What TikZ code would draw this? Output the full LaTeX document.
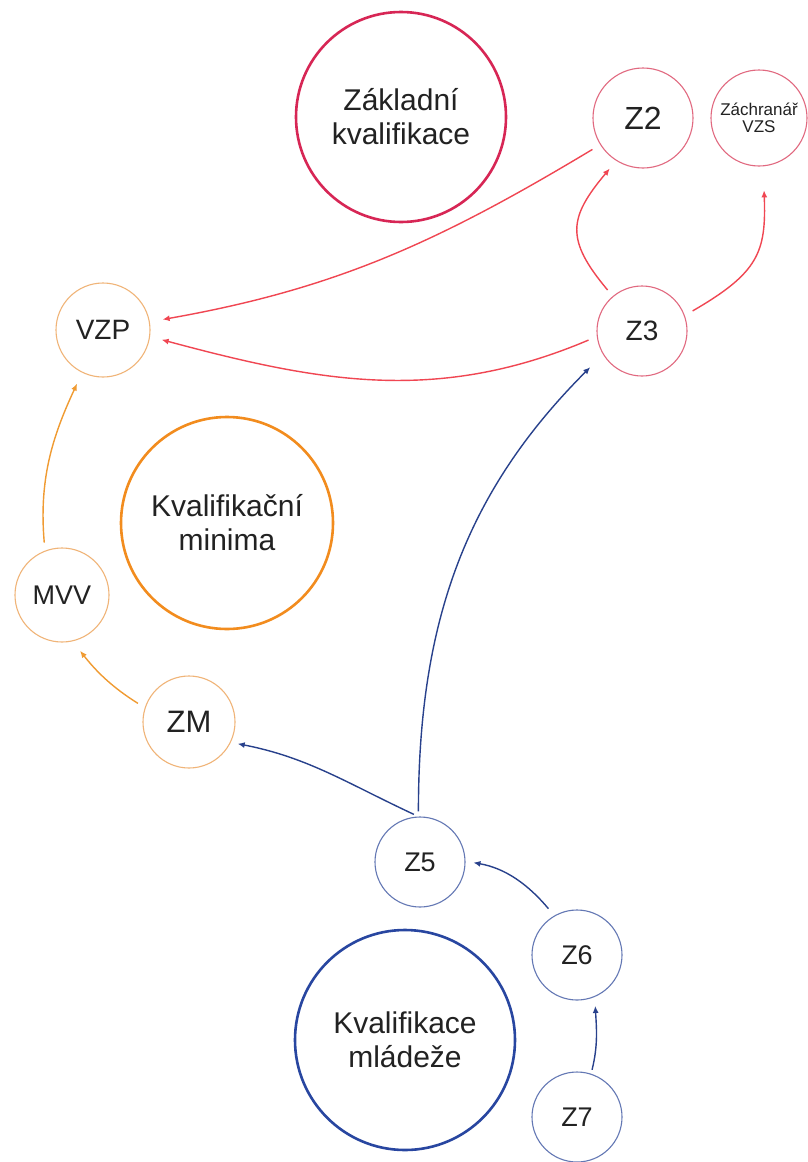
\documentclass[tikz,border=0pt]{standalone}
\usepackage{fontspec}
\setmainfont{Liberation Sans}
\usetikzlibrary{arrows.meta}
\definecolor{txt}{RGB}{34,34,34}
\definecolor{redbig}{RGB}{215,38,85}
\definecolor{redsm}{RGB}{225,105,128}
\definecolor{redar}{RGB}{240,70,82}
\definecolor{orbig}{RGB}{242,140,30}
\definecolor{orsm}{RGB}{240,180,120}
\definecolor{orar}{RGB}{240,155,50}
\definecolor{blbig}{RGB}{40,70,160}
\definecolor{blsm}{RGB}{100,120,180}
\definecolor{blar}{RGB}{40,65,140}
\begin{document}
\begin{tikzpicture}[x=1pt,y=1pt,
  big/.style={circle, draw, line width=2.6pt, inner sep=0pt, align=center, text=txt, font=\fontsize{30}{34}\selectfont},
  sm/.style={circle, draw, line width=1.1pt, inner sep=0pt, text=txt, font=\fontsize{28}{32}\selectfont},
  arr/.style={line width=1.4pt, -{Latex[length=7pt,width=6pt]}}]
\useasboundingbox (0,0) rectangle (808,-1162);
\fill[white] (0,0) rectangle (808,-1162);
% nodes
\node[big, draw=redbig, minimum size=210pt] (zk) at (401,-117) {Základní\\kvalifikace};
\node[sm, draw=redsm, minimum size=100pt, font=\fontsize{32}{36}\selectfont] (z2) at (643,-118) {Z2};
\node[sm, draw=redsm, minimum size=96pt, align=center, font=\fontsize{17}{17}\selectfont] (zach) at (759,-118) {Záchranář\\VZS};
\node[sm, draw=redsm, minimum size=90pt] (z3) at (642,-331) {Z3};
\node[sm, draw=orsm, minimum size=94pt] (vzp) at (103,-330) {VZP};
\node[big, draw=orbig, minimum size=212pt] (km) at (227,-523) {Kvalifikační\\minima};
\node[sm, draw=orsm, minimum size=94pt, font=\fontsize{27}{30}\selectfont] (mvv) at (62,-595) {MVV};
\node[sm, draw=orsm, minimum size=92pt, font=\fontsize{31}{34}\selectfont] (zm) at (189,-722) {ZM};
\node[sm, draw=blsm, minimum size=90pt, font=\fontsize{27}{30}\selectfont] (z5) at (420,-862) {Z5};
\node[sm, draw=blsm, minimum size=90pt, font=\fontsize{27}{30}\selectfont] (z6) at (577,-955) {Z6};
\node[big, draw=blbig, minimum size=220pt] (kml) at (405,-1040) {Kvalifikace\\mládeže};
\node[sm, draw=blsm, minimum size=90pt, font=\fontsize{27}{30}\selectfont] (z7) at (577,-1117) {Z7};
% red connectors
\draw[arr, redar, shorten <=9pt, shorten >=13pt] (z2.212) to[out=211, in=10] (vzp.10);
\draw[arr, redar, shorten <=9pt, shorten >=12pt] (z3.187) to[out=203, in=-15] (vzp.-8);
\draw[arr, redar, shorten <=8pt, shorten >=10pt] (z3.130) to[out=130, in=230, looseness=1.4] (z2.238);
\draw[arr, redar, shorten <=9pt, shorten >=24pt] (z3.20) to[out=30, in=-88, looseness=1.3] (zach.-85);
% orange connectors
\draw[arr, orar, shorten <=8pt, shorten >=12pt] (mvv.111) to[out=95, in=245] (vzp.244);
\draw[arr, orar, shorten <=8pt, shorten >=12pt] (zm.162) to[out=148, in=-52] (mvv.-77);
% blue connectors
\draw[arr, blar, shorten <=5pt, shorten >=7pt] (z5.92) to[out=155, in=-11] (zm.-26);
\draw[arr, blar, shorten <=5pt, shorten >=18pt] (z5.92) to[out=90, in=225] (z3.211);
\draw[arr, blar, shorten <=9pt, shorten >=8pt] (z6.120) to[out=130, in=-10] (z5.1);
\draw[arr, blar, shorten <=4pt, shorten >=9pt] (z7.72) to[out=76, in=-87] (z6.-67);
\end{tikzpicture}
\end{document}
